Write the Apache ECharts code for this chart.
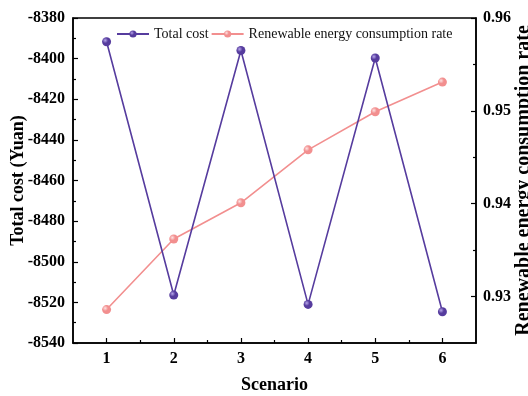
<!DOCTYPE html>
<html>
<head>
<meta charset="utf-8">
<script src="https://cdn.jsdelivr.net/npm/echarts@6/dist/echarts.min.js"></script>
<style>
  html, body { margin: 0; padding: 0; background: #fff; }
  #chart { width: 528px; height: 396px; }
</style>
</head>
<body>
<div id="chart"></div>
<script>
// Scenario results: cost and renewable consumption per scenario
const scenarios = [1, 2, 3, 4, 5, 6];
const totalCost = [-8391.7, -8516.4, -8396.0, -8521.0, -8399.7, -8524.6];
const renewableRate = [0.9286, 0.9362, 0.9401, 0.9458, 0.9499, 0.9531];

const rateTicks = [0.93, 0.94, 0.95, 0.96];
const rateMinorTicks = [0.935, 0.945, 0.955];
const scenarioMinorTicks = [1.5, 2.5, 3.5, 4.5, 5.5];

const FONT = '"Liberation Serif", "Times New Roman", serif';
const PURPLE = '#563c9e';
const PINK = '#f28f8f';

function ball(base, light) {
  return {
    type: 'radial', x: 0.35, y: 0.35, r: 0.7,
    colorStops: [
      { offset: 0, color: light },
      { offset: 0.45, color: base },
      { offset: 1, color: base }
    ]
  };
}

const axisLineStyle = { color: '#000', width: 1.5 };
const labelStyle = { color: '#000', fontFamily: FONT, fontWeight: 'bold', fontSize: 16 };
const nameStyle = { color: '#000', fontFamily: FONT, fontWeight: 'bold', fontSize: 18 };

const chart = echarts.init(document.getElementById('chart'), null, { renderer: 'canvas' });

chart.setOption({
  animation: false,
  backgroundColor: '#fff',
  grid: {
    left: 73, right: 52, top: 18, bottom: 53,
    containLabel: false, outerBoundsMode: 'none',
    show: true, borderColor: '#000', borderWidth: 1.5, backgroundColor: 'transparent'
  },
  legend: {
    left: 111, top: 22,
    itemWidth: 32, itemHeight: 9, itemGap: 2,
    textStyle: { color: '#111', fontFamily: FONT, fontSize: 14 },
    data: ['Total cost', 'Renewable energy consumption rate']
  },
  xAxis: [
    {
      type: 'value', min: 0.5, max: 6.5, interval: 0.5,
      name: 'Scenario', nameLocation: 'middle', nameGap: 33, nameMoveOverlap: false, nameTextStyle: nameStyle,
      axisLine: { lineStyle: axisLineStyle },
      axisTick: { inside: true, length: 5, lineStyle: { color: '#000', width: 1.2 }, customValues: scenarios },
      axisLabel: { ...labelStyle, margin: 8, customValues: scenarios, formatter: v => String(v) },
      splitLine: { show: false }
    },
    {
      type: 'value', min: 0.5, max: 6.5, interval: 0.5, position: 'bottom',
      axisLine: { show: false },
      axisTick: { inside: true, length: 3, lineStyle: { color: '#000', width: 1.2 }, customValues: scenarioMinorTicks },
      axisLabel: { show: false },
      splitLine: { show: false }
    }
  ],
  yAxis: [
    {
      type: 'value', min: -8540, max: -8380, interval: 20, position: 'left',
      name: 'Total cost (Yuan)', nameLocation: 'middle', nameGap: 46, nameRotate: 90, nameMoveOverlap: false,
      nameTextStyle: nameStyle,
      axisLine: { show: true, lineStyle: axisLineStyle },
      axisTick: { inside: true, length: 5, lineStyle: { color: '#000', width: 1.2 } },
      minorTick: { show: true, splitNumber: 2, length: 3, lineStyle: { color: '#000', width: 1.2 } },
      axisLabel: { ...labelStyle, margin: 8, formatter: v => String(v) },
      splitLine: { show: false }
    },
    {
      type: 'value', min: 0.925, max: 0.96, interval: 0.005, position: 'right',
      name: 'Renewable energy consumption rate', nameLocation: 'middle', nameGap: 38, nameRotate: 90, nameMoveOverlap: false,
      nameTextStyle: { ...nameStyle, fontSize: 20 },
      axisLine: { show: true, lineStyle: axisLineStyle },
      axisTick: { inside: true, length: 5, lineStyle: { color: '#000', width: 1.2 }, customValues: rateTicks },
      axisLabel: { ...labelStyle, margin: 7, customValues: rateTicks, formatter: v => v.toFixed(2) },
      splitLine: { show: false }
    },
    {
      type: 'value', min: 0.925, max: 0.96, interval: 0.005, position: 'right',
      axisLine: { show: false },
      axisTick: { inside: true, length: 3, lineStyle: { color: '#000', width: 1.2 }, customValues: rateMinorTicks },
      axisLabel: { show: false },
      splitLine: { show: false }
    }
  ],
  series: [
    {
      name: 'Total cost', type: 'line', xAxisIndex: 0, yAxisIndex: 0,
      data: scenarios.map((s, i) => [s, totalCost[i]]),
      symbol: 'circle', symbolSize: 9,
      lineStyle: { color: PURPLE, width: 1.6 },
      itemStyle: { color: ball(PURPLE, '#b7a6ea') },
      z: 3
    },
    {
      name: 'Renewable energy consumption rate', type: 'line', xAxisIndex: 0, yAxisIndex: 1,
      data: scenarios.map((s, i) => [s, renewableRate[i]]),
      symbol: 'circle', symbolSize: 9,
      lineStyle: { color: PINK, width: 1.6 },
      itemStyle: { color: ball(PINK, '#fde3e3') },
      z: 2
    }
  ]
});
</script>
</body>
</html>
